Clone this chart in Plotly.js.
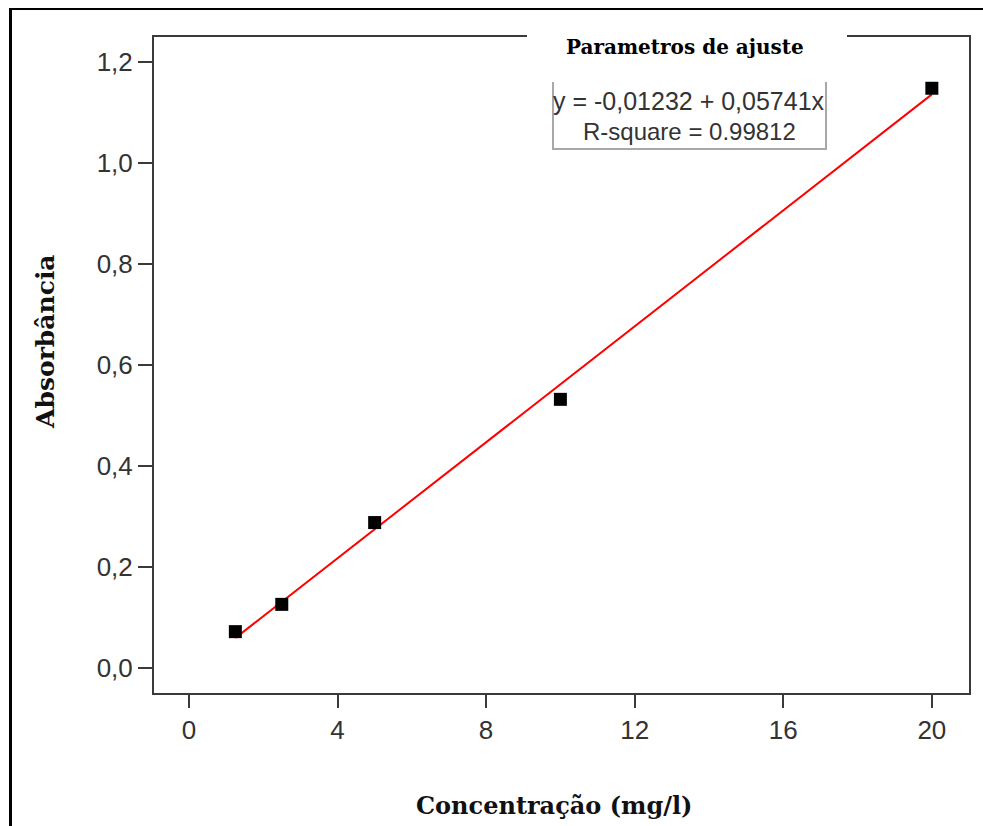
<!DOCTYPE html>
<html>
<head>
<meta charset="utf-8">
<script src="https://cdn.plot.ly/plotly-3.0.1.min.js"></script>
<style>
  html, body { margin: 0; padding: 0; background: #fff; }
  #wrap { position: relative; width: 983px; height: 826px; }
  #chart { width: 983px; height: 826px; }
  #frame { position: absolute; left: 9px; top: 8px; width: 990px; height: 830px;
           border-top: 2px solid #000; border-left: 3px solid #000; pointer-events: none; }
</style>
</head>
<body>
<div id="wrap">
  <div id="chart"></div>
  <div id="frame"></div>
</div>
<script>
// Data
const concentration = [1.25, 2.5, 5, 10, 20];
const absorbance = [0.072, 0.126, 0.288, 0.532, 1.148];
const fitIntercept = -0.01232;
const fitSlope = 0.05741;
const rSquare = '0.99812';
const xTicks = [0, 4, 8, 12, 16, 20];
const yTicks = [0, 0.2, 0.4, 0.6, 0.8, 1.0, 1.2];

const fitX = [Math.min(...concentration), Math.max(...concentration)];
const fitY = fitX.map(x => fitIntercept + fitSlope * x);

const axisColor = '#3a3a3a';
const tickFont = { family: 'Liberation Sans, Arial, sans-serif', size: 26, color: '#333' };

const traces = [
  { x: fitX, y: fitY, type: 'scatter', mode: 'lines',
    line: { color: '#ff0000', width: 2 }, hoverinfo: 'skip', showlegend: false },
  { x: concentration, y: absorbance, type: 'scatter', mode: 'markers',
    marker: { symbol: 'square', size: 13, color: '#000' }, showlegend: false }
];

const L = 154, R = 969, T = 37, B = 693;
const px = x => (x - L) / (R - L);
const py = y => (B - y) / (B - T);

const layout = {
  width: 983, height: 826,
  margin: { l: L, r: 983 - R, t: T, b: 826 - B, pad: 0 },
  paper_bgcolor: '#fff', plot_bgcolor: '#fff',
  separators: ',.',
  showlegend: false,
  xaxis: {
    range: [-0.94, 21.0], tickvals: xTicks, ticks: 'outside', ticklen: 13, tickwidth: 2,
    tickcolor: axisColor, showline: true, linecolor: axisColor, linewidth: 2, mirror: true,
    showgrid: false, zeroline: false, tickfont: tickFont
  },
  yaxis: {
    range: [-0.0495, 1.2495], tickvals: yTicks, tickformat: '.1f', ticks: 'outside', ticklen: 14, tickwidth: 2,
    tickcolor: axisColor, showline: true, linecolor: axisColor, linewidth: 2, mirror: true,
    showgrid: false, zeroline: false, tickfont: tickFont
  },
  shapes: [
    { type: 'rect', xref: 'paper', yref: 'paper', x0: px(527), x1: px(847), y0: py(62), y1: py(18),
      fillcolor: '#fff', line: { width: 0 }, layer: 'above' },
    { type: 'path', xref: 'paper', yref: 'paper',
      path: `M ${px(553)} ${py(82)} L ${px(553)} ${py(149)} L ${px(826)} ${py(149)} L ${px(826)} ${py(82)}`,
      line: { color: '#a8a8a8', width: 2 }, layer: 'above' }
  ],
  annotations: [
    { text: 'Parametros de ajuste', xref: 'paper', yref: 'paper', x: px(685), y: py(47),
      xanchor: 'center', yanchor: 'middle', showarrow: false,
      font: { family: 'DejaVu Serif, serif', size: 20, color: '#000', weight: 'bold' } },
    { text: 'y = -0,01232 + 0,05741x', xref: 'paper', yref: 'paper', x: px(689), y: py(101),
      xanchor: 'center', yanchor: 'middle', showarrow: false,
      font: { family: 'Liberation Sans, Arial, sans-serif', size: 25, color: '#333' } },
    { text: 'R-square = ' + rSquare, xref: 'paper', yref: 'paper', x: px(689), y: py(131),
      xanchor: 'center', yanchor: 'middle', showarrow: false,
      font: { family: 'Liberation Sans, Arial, sans-serif', size: 24, color: '#333' } },
    { text: 'Absorbância', xref: 'paper', yref: 'paper', x: px(45), y: py(342),
      xanchor: 'center', yanchor: 'middle', textangle: -90, showarrow: false,
      font: { family: 'DejaVu Serif, serif', size: 25, color: '#111', weight: 'bold' } },
    { text: 'Concentração (mg/l)', xref: 'paper', yref: 'paper', x: px(554), y: py(805),
      xanchor: 'center', yanchor: 'middle', showarrow: false,
      font: { family: 'DejaVu Serif, serif', size: 24, color: '#111', weight: 'bold' } }
  ]
};

Plotly.newPlot('chart', traces, layout, { displayModeBar: false, staticPlot: true });
</script>
</body>
</html>
